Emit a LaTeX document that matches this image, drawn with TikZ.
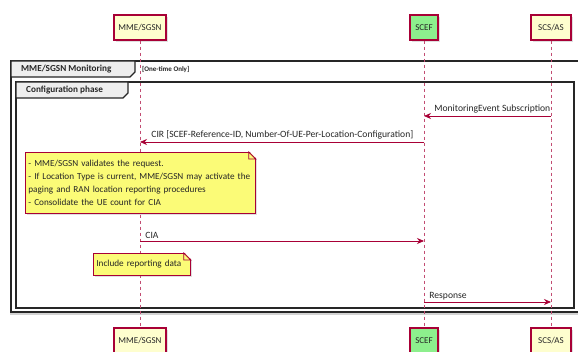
\documentclass[tikz,border=0pt]{standalone}
\usepackage{fontspec}
\setmainfont{Carlito}
\usepackage{xcolor}
\usepackage{tikz}
\usetikzlibrary{arrows.meta}
\usetikzlibrary{shadows}

\definecolor{umlred}{HTML}{A80036}
\definecolor{partyellow}{HTML}{FEFECE}
\definecolor{partgreen}{HTML}{8DEF8D}
\definecolor{noteyellow}{HTML}{FBFB77}
\definecolor{tabgray}{HTML}{EEEEEE}

\begin{document}
\begin{tikzpicture}[x=1pt,y=-1pt,
    party/.style={draw=umlred, line width=1.2pt, fill=partyellow, minimum height=25pt,
      inner sep=2pt, text=black!85, font=\fontsize{9}{10}\selectfont,
      drop shadow={shadow xshift=2pt, shadow yshift=-2pt, opacity=0.25}},
    lifeline/.style={draw=umlred!70, line width=0.8pt, dash pattern=on 3pt off 3pt},
    msg/.style={draw=umlred, line width=0.8pt, -{Stealth[length=7pt,width=6pt]}},
    msglabel/.style={inner sep=1pt, text=black!85, font=\fontsize{9.6}{10}\selectfont},
    note/.style={draw=umlred, line width=0.8pt, fill=noteyellow, anchor=north west,
      inner xsep=3pt, inner ysep=2pt, align=left, text=black!85,
      font=\fontsize{9.2}{13}\selectfont,
      drop shadow={shadow xshift=2pt, shadow yshift=-2pt, opacity=0.25}},
    fold/.style={draw=umlred, line width=0.8pt},
    frame/.style={draw=black!85, line width=1.3pt, fill=white},
    tab/.style={draw=black!85, line width=1.1pt, fill=tabgray},
    tabtext/.style={anchor=west, inner sep=1pt, text=black!85, font=\bfseries\fontsize{9.2}{10}\selectfont}]
    \clip (0,0) rectangle (578,352);

    % group frames
    \draw[frame, drop shadow={shadow xshift=-1pt, shadow yshift=-3pt, opacity=0.35}] (11,61) rectangle (580,312);
    \draw[tab] (11,61) -- (135,61) -- (135,72) -- (130,77) -- (11,77) -- cycle;
    \node[tabtext] (grp) at (20,69) {MME/SGSN Monitoring};
    \node[tabtext, font=\bfseries\fontsize{7}{8}\selectfont] (guard) at (141,69) {[One-time Only]};
    \draw[frame] (16,82) rectangle (574,308);
    \draw[tab] (16,82) -- (128,82) -- (128,93) -- (123,98) -- (16,98) -- cycle;
    \node[tabtext] (phase) at (25,90) {Configuration phase};

    % participants
    \node[party, minimum width=52pt] (mme) at (140,27.5) {MME/SGSN};
    \node[party, minimum width=28pt, fill=partgreen] (scef) at (424,27.5) {SCEF};
    \node[party, minimum width=40pt] (scs) at (551,27.5) {SCS/AS};
    \node[party, minimum width=52pt] (mmeb) at (140,340.5) {MME/SGSN};
    \node[party, minimum width=28pt, fill=partgreen] (scefb) at (424,340.5) {SCEF};
    \node[party, minimum width=40pt] (scsb) at (551,340.5) {SCS/AS};
    \draw[lifeline] (mme) -- (mmeb);
    \draw[lifeline] (scef) -- (scefb);
    \draw[lifeline] (scs) -- (scsb);

    % messages
    \coordinate (subs) at (scs |- 0,116);
    \coordinate (subt) at (scef |- 0,116);
    \coordinate (cirs) at (scef |- 0,142);
    \coordinate (cirt) at (mme |- 0,142);
    \coordinate (cias) at (mme |- 0,241);
    \coordinate (ciat) at (scef |- 0,241);
    \coordinate (rsps) at (scef |- 0,302);
    \coordinate (rspt) at (scs |- 0,302);
    \draw[msg] (subs) -- (subt) node[msglabel, at end, anchor=south west, xshift=9pt, yshift=1pt] {MonitoringEvent Subscription};
    \draw[msg] (cirs) -- (cirt) node[msglabel, at end, anchor=south west, xshift=10pt, yshift=1pt] {CIR [SCEF-Reference-ID, Number-Of-UE-Per-Location-Configuration]};
    \draw[msg] (cias) -- (ciat) node[msglabel, at start, anchor=south west, xshift=4pt, yshift=1pt] {CIA};
    \draw[msg] (rsps) -- (rspt) node[msglabel, at start, anchor=south west, xshift=4pt, yshift=1pt] {Response};

    % notes
    \node[note, text width=224pt, minimum height=61pt] (n1) at (25,152)
      {- MME/SGSN validates the request.\\
       - If Location Type is current, MME/SGSN may activate the\\
       paging and RAN location reporting procedures\\
       - Consolidate the UE count for CIA};
    \fill[white] ([shift={(-7pt,1pt)}]n1.north east) -- ([shift={(1pt,1pt)}]n1.north east) -- ([shift={(1pt,-7pt)}]n1.north east) -- cycle;
    \draw[fold] ([xshift=-7pt]n1.north east) -- ([yshift=-7pt]n1.north east) -- ([shift={(-7pt,-7pt)}]n1.north east) -- cycle;
    \node[note, text width=91pt, minimum height=22pt] (n2) at (93,253) {Include reporting data};
    \fill[white] ([shift={(-7pt,1pt)}]n2.north east) -- ([shift={(1pt,1pt)}]n2.north east) -- ([shift={(1pt,-7pt)}]n2.north east) -- cycle;
    \draw[fold] ([xshift=-7pt]n2.north east) -- ([yshift=-7pt]n2.north east) -- ([shift={(-7pt,-7pt)}]n2.north east) -- cycle;
\end{tikzpicture}
\end{document}
